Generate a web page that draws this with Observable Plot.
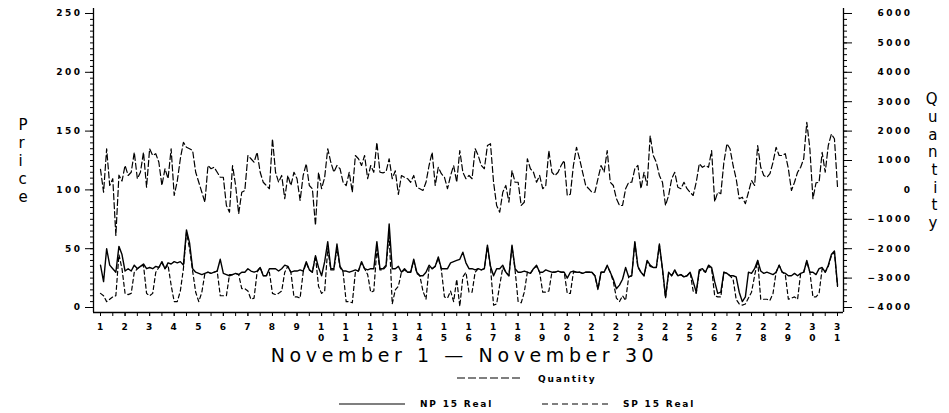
<!DOCTYPE html>
<html><head><meta charset="utf-8">
<script src="https://cdn.jsdelivr.net/npm/d3@7"></script>
<script src="https://cdn.jsdelivr.net/npm/@observablehq/plot@0.6"></script>
<style>
body{margin:0;background:#fff;}
#wrap{position:relative;width:949px;height:413px;font-family:"DejaVu Sans",sans-serif;background:#fff;}
.ch [aria-label="y-axis tick label"] text{letter-spacing:2.5px;}
.ch [aria-label="x-axis tick label"] text{letter-spacing:1px;}
.leg{position:absolute;font:bold 9px "DejaVu Sans",sans-serif;letter-spacing:1.8px;line-height:10px;transform:translateY(-50%);white-space:nowrap;}
.legline{position:absolute;overflow:visible;}
</style></head><body><div id="wrap"></div>
<script>
// 3-hourly readings, Nov 1 00:00 .. Dec 1 00:00 (8 per day + final)
const quantity = [
  700,-80,1400,150,380,-1550,500,300,
  830,490,600,1280,380,600,1280,90,
  1400,1170,1230,940,150,720,380,1400,
  -190,300,1060,1620,1450,1400,1340,600,
  260,-80,-420,830,720,770,600,430,
  430,-530,-760,830,150,-810,-80,-20,
  1170,1060,940,1280,600,260,150,40,
  1740,600,260,490,-300,490,150,600,
  380,-360,490,890,150,40,-1210,600,
  40,430,1400,940,600,830,720,260,
  150,600,-80,1170,1060,830,1170,380,
  830,600,1620,600,580,620,1060,380,
  650,-150,490,430,380,260,490,90,
  40,-20,260,830,1280,150,770,550,
  430,40,490,830,260,1340,600,380,
  490,380,1400,1170,830,720,1510,1570,
  260,-530,-760,-80,150,-420,660,260,
  260,-530,-420,1060,720,600,260,490,
  40,150,1340,600,490,600,830,1000,
  -190,-150,830,1450,1060,600,150,40,
  -80,-80,380,830,600,1340,260,150,
  -300,-530,-530,40,260,260,720,830,
  40,600,150,1850,1170,940,490,260,
  -530,-190,380,600,90,40,260,40,
  -80,-190,260,890,770,830,770,1340,
  -400,-80,-130,940,1570,1400,830,380,
  -300,-250,-470,-80,320,150,1510,770,
  490,430,550,940,1450,1170,1170,1230,
  720,-20,260,600,770,1060,2300,1400,
  -300,240,260,1280,600,1510,1900,1740,
  100
];
const np15 = [
  36,22,50,36,33,30,52,45,
  31,33,31,36,33,35,37,33,
  34,33,35,34,39,33,38,37,
  39,38,39,36,66,55,33,30,
  29,28,29,30,29,30,31,41,
  29,28,27,28,29,28,30,30,
  33,31,30,31,34,27,27,33,
  33,33,31,33,36,35,30,31,
  31,32,31,39,32,30,44,34,
  27,39,56,33,33,54,35,31,
  31,30,31,32,31,39,33,32,
  33,33,56,33,33,36,71,33,
  33,35,30,33,30,30,41,30,
  27,27,30,36,33,35,43,33,
  33,33,38,39,40,41,47,38,
  33,33,32,33,32,33,53,35,
  27,33,33,36,30,27,53,33,
  30,30,31,30,29,33,36,30,
  30,32,31,30,30,31,30,30,
  25,30,31,30,30,29,30,30,
  30,27,16,30,30,36,30,24,
  16,19,24,34,26,27,56,35,
  30,27,40,36,34,34,54,33,
  9,30,27,32,27,28,26,27,
  30,22,13,32,33,30,36,34,
  22,12,13,30,29,27,27,26,
  13,5,9,30,29,33,40,31,
  29,30,29,28,30,36,30,29,
  27,27,29,27,29,30,40,30,
  30,28,33,34,30,36,45,48,
  19
];
const sp15 = [
  12,10,5,7,9,10,45,33,
  12,11,12,30,33,35,36,12,
  10,12,30,34,38,33,36,19,
  5,5,14,33,64,50,31,13,
  5,13,29,30,29,30,31,10,
  10,10,28,28,29,28,16,16,
  14,7,8,30,34,27,27,30,
  12,11,12,14,30,35,30,9,
  9,8,30,38,32,30,44,18,
  12,14,50,32,32,50,34,30,
  5,5,4,30,31,38,33,28,
  13,14,50,32,32,35,62,3,
  15,18,30,32,30,30,40,29,
  27,14,7,34,33,35,42,32,
  9,8,14,5,24,1,26,30,
  13,13,30,33,32,33,52,34,
  2,3,19,34,30,27,52,32,
  5,4,13,30,29,33,35,30,
  13,13,14,30,30,31,30,30,
  12,12,30,30,30,29,30,30,
  30,27,15,30,30,35,30,22,
  8,5,10,6,26,27,55,34,
  30,27,39,35,34,34,53,32,
  8,29,27,31,27,28,26,27,
  30,14,12,31,32,30,35,33,
  10,9,9,30,29,27,24,7,
  3,2,3,8,13,27,40,7,
  7,7,6,12,30,36,30,28,
  7,8,9,7,29,30,39,30,
  9,9,12,33,30,35,44,47,
  18
];
const dayLabels = ["1","2","3","4","5","6","7","8","9",
  "1\n0","1\n1","1\n2","1\n3","1\n4","1\n5","1\n6","1\n7","1\n8","1\n9",
  "2\n0","2\n1","2\n2","2\n3","2\n4","2\n5","2\n6","2\n7","2\n8","2\n9",
  "3\n0","3\n1"];
const priceTicks = [0, 50, 100, 150, 200, 250];
const quantityTicks = [-4000, -3000, -2000, -1000, 0, 1000, 2000, 3000, 4000, 5000, 6000];
const xTitle = "November 1 \u2014 November 30";
const yTitle = "P\nr\ni\nc\ne";
const y2Title = "Q\nu\na\nn\nt\ni\nt\ny";

// quantity axis shares the price frame: price 0..250 <-> quantity -4000..6000
const toPrice = q => (q + 4000) / 40;
const rows = quantity.map((q, i) => ({t: 1 + i * 3 / 24, q: toPrice(q), np: np15[i], sp: sp15[i]}));

const H = 372;
const xLo = 0.715, xHi = 31.244, yLo = -4.25, yHi = 254.25;
const days = dayLabels.map((_, i) => i + 1);
const halfDays = d3.range(1, 31.01, 0.5);
const minorPrice = d3.range(0, 250.01, 5);
const fmtQ = p => String(Math.round(p * 40 - 4000)).replace("-", "\u2212");

const chart = Plot.plot({
  width: 949, height: H,
  marginLeft: 93, marginRight: 106, marginTop: 8, marginBottom: H - 312,
  className: "ch",
  x: {domain: [xLo, xHi]},
  y: {domain: [yLo, yHi]},
  style: {fontFamily: "DejaVu Sans, sans-serif", color: "black", background: "white", overflow: "visible"},
  marks: [
    Plot.ruleX([xLo, xHi], {stroke: "black", strokeWidth: 1.3}),
    Plot.ruleY([yLo], {stroke: "black", strokeWidth: 1.3}),
    Plot.axisY(minorPrice, {anchor: "left", tickSize: 3, tickFormat: () => "", label: null}),
    Plot.axisY(priceTicks, {anchor: "left", tickSize: 8, tickPadding: 3, tickFormat: d => String(d), fontSize: 9, fontWeight: "bold", label: null}),
    Plot.axisY(minorPrice, {anchor: "right", tickSize: 3, tickFormat: () => "", label: null}),
    Plot.axisY(quantityTicks.map(toPrice), {anchor: "right", tickSize: 8, tickPadding: 61, textAnchor: "end", tickFormat: fmtQ, fontSize: 9, fontWeight: "bold", label: null}),
    Plot.axisX(halfDays, {anchor: "bottom", tickSize: 4, tickFormat: () => "", label: null}),
    Plot.axisX(days, {anchor: "bottom", tickSize: 4, tickPadding: 6, tickFormat: d => dayLabels[d - 1], fontSize: 9, fontWeight: "bold", lineHeight: 1.2, label: null}),
    Plot.lineY(rows, {x: "t", y: "q", stroke: "black", strokeWidth: 1.2, strokeDasharray: "6,3"}),
    Plot.lineY(rows, {x: "t", y: "sp", stroke: "black", strokeWidth: 1.2, strokeDasharray: "4,3"}),
    Plot.lineY(rows, {x: "t", y: "np", stroke: "black", strokeWidth: 1.4}),
    Plot.text([xTitle], {text: d => d, frameAnchor: "bottom", dy: 43, dx: -4, lineAnchor: "middle", fontSize: 19, fill: "black"}),
    Plot.text([yTitle], {text: d => d, frameAnchor: "left", dx: -75, lineAnchor: "middle", fontSize: 15, fill: "black", lineHeight: 1.2}),
    Plot.text([y2Title], {text: d => d, frameAnchor: "right", dx: 94, lineAnchor: "middle", fontSize: 15, fill: "black", lineHeight: 1.18})
  ]
});
d3.select(chart).selectAll("text")
  .filter(function() { return this.textContent === xTitle; })
  .style("letter-spacing", "4.6px");
const wrap = document.getElementById("wrap");
wrap.appendChild(chart);

// legend
function legLine(x1, x2, y, dash) {
  const ns = "http://www.w3.org/2000/svg";
  const s = document.createElementNS(ns, "svg");
  s.setAttribute("class", "legline");
  s.setAttribute("width", x2 - x1); s.setAttribute("height", 4);
  s.style.left = x1 + "px"; s.style.top = (y - 2) + "px";
  const l = document.createElementNS(ns, "line");
  l.setAttribute("x1", 0); l.setAttribute("x2", x2 - x1);
  l.setAttribute("y1", 2); l.setAttribute("y2", 2);
  l.setAttribute("stroke", "black"); l.setAttribute("stroke-width", 1.2);
  if (dash) l.setAttribute("stroke-dasharray", dash);
  s.appendChild(l); wrap.appendChild(s);
}
function legText(x, y, t) {
  const d = document.createElement("div");
  d.className = "leg"; d.textContent = t;
  d.style.left = x + "px"; d.style.top = y + "px";
  wrap.appendChild(d);
}
legLine(457, 523, 378, "8,3"); legText(538, 379, "Quantity");
legLine(339, 405, 404, null); legText(420, 404, "NP 15 Real");
legLine(542, 610, 404, "6,4"); legText(623, 404, "SP 15 Real");
</script></body></html>
